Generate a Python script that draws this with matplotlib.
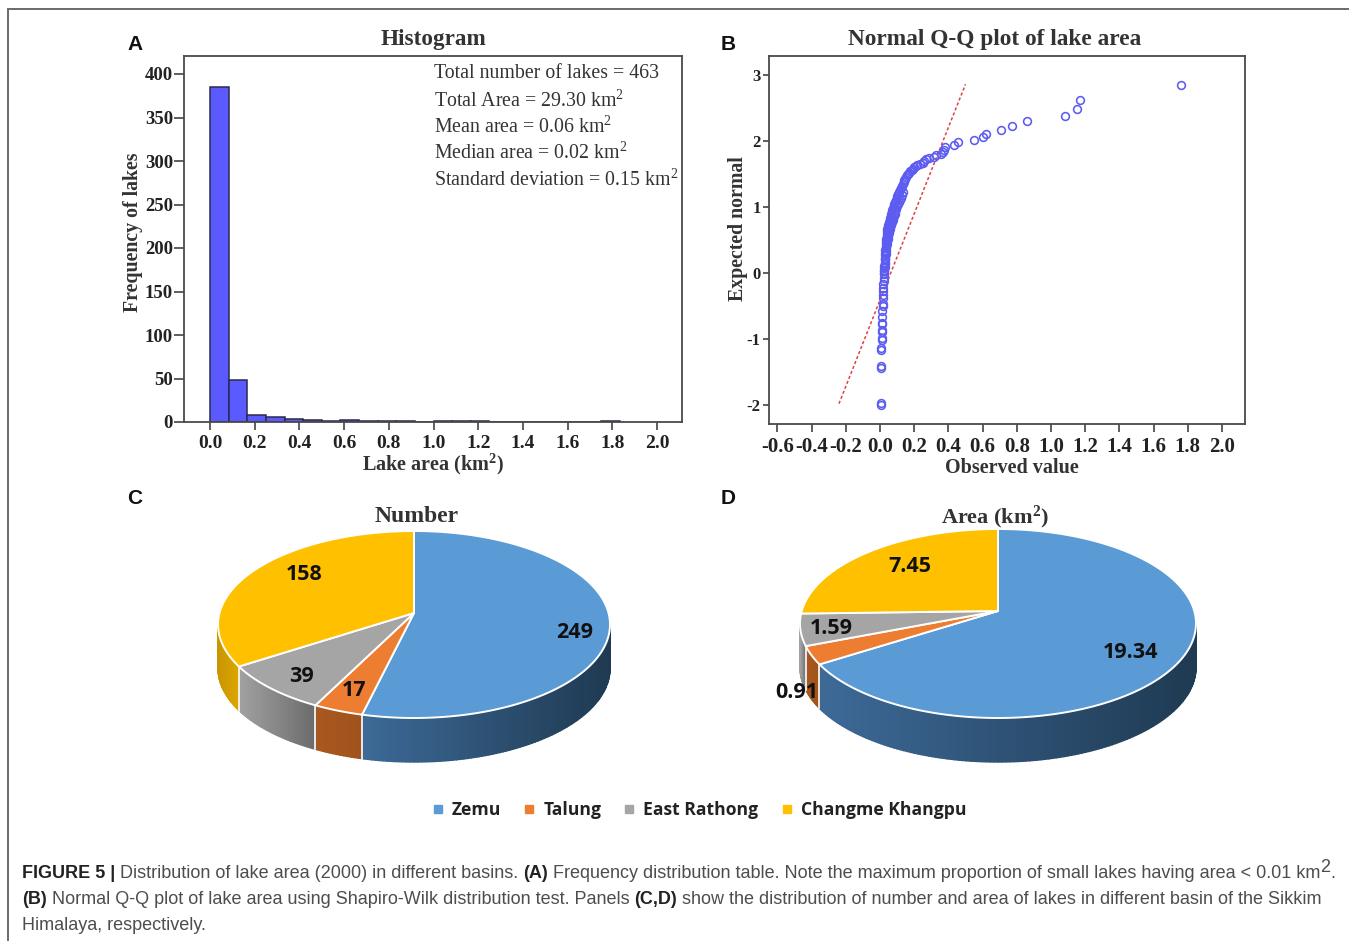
import matplotlib
matplotlib.use('Agg')
import matplotlib.pyplot as plt
from matplotlib.lines import Line2D
import numpy as np

W, H = 1355, 941
SERIF = 'Liberation Serif'
SANS = 'Liberation Sans'
CALIBRI = 'Open Sans'

# histogram
bin_width = 1 / 12
hist_counts = [385, 48, 8, 6, 4, 2, 1, 2, 1, 1, 1, 0, 1, 1, 1, 0, 0, 0, 0, 0, 0, 1]
hist_xticks = [0.0, 0.2, 0.4, 0.6, 0.8, 1.0, 1.2, 1.4, 1.6, 1.8, 2.0]
hist_yticks = [0, 50, 100, 150, 200, 250, 300, 350, 400]
stats_lines = ['Total number of lakes = 463',
               'Total Area = 29.30 km$^{2}$',
               'Mean area = 0.06 km$^{2}$',
               'Median area = 0.02 km$^{2}$',
               'Standard deviation = 0.15 km$^{2}$']

qq_observed = [0.006, 0.006, 0.007, 0.007, 0.008, 0.008, 0.010, 0.010, 0.011, 0.011, 0.012, 0.012,
               0.013, 0.014, 0.015, 0.015, 0.016, 0.017, 0.018, 0.019, 0.020, 0.021, 0.022, 0.023,
               0.024, 0.025, 0.026, 0.027, 0.028, 0.029, 0.030, 0.031, 0.032, 0.033, 0.034, 0.035,
               0.037, 0.038, 0.039, 0.040, 0.041, 0.042, 0.043, 0.045, 0.047, 0.050, 0.053, 0.056,
               0.059, 0.062, 0.065, 0.068, 0.072, 0.076, 0.080, 0.084, 0.088, 0.092, 0.097, 0.102,
               0.107, 0.112, 0.118, 0.124, 0.130, 0.136, 0.140, 0.143, 0.146, 0.150, 0.156, 0.162,
               0.170, 0.178, 0.186, 0.194, 0.200, 0.208, 0.215, 0.232, 0.250, 0.258, 0.268, 0.285,
               0.315, 0.330, 0.355, 0.370, 0.375, 0.378, 0.435, 0.455, 0.55, 0.60, 0.62, 0.71,
               0.77, 0.86, 1.08, 1.15, 1.17, 1.76,
               0.022, 0.025, 0.027, 0.029, 0.031, 0.033, 0.035, 0.037, 0.040, 0.042, 0.044, 0.046,
               0.049, 0.052, 0.055, 0.058, 0.061, 0.064, 0.067, 0.070, 0.074, 0.078, 0.082, 0.086,
               0.090, 0.095, 0.100, 0.105, 0.110, 0.115, 0.121, 0.127, 0.133]
qq_expected = [-2.00, -1.97, -1.44, -1.41, -1.16, -1.13, -1.01, -0.99, -0.89, -0.87, -0.78, -0.76,
               -0.67, -0.58, -0.50, -0.47, -0.38, -0.33, -0.28, -0.22, -0.17, -0.12, -0.07, -0.02,
               0.03, 0.07, 0.11, 0.15, 0.19, 0.23, 0.27, 0.31, 0.35, 0.38, 0.42, 0.46,
               0.49, 0.52, 0.55, 0.58, 0.61, 0.64, 0.67, 0.70, 0.72, 0.75, 0.78, 0.81,
               0.84, 0.87, 0.90, 0.93, 0.96, 0.99, 1.02, 1.05, 1.08, 1.11, 1.14, 1.17,
               1.20, 1.23, 1.26, 1.29, 1.32, 1.35, 1.38, 1.41, 1.43, 1.46, 1.48, 1.50,
               1.52, 1.54, 1.56, 1.58, 1.60, 1.62, 1.63, 1.65, 1.67, 1.69, 1.72, 1.74,
               1.76, 1.79, 1.81, 1.84, 1.87, 1.91, 1.94, 1.98, 2.02, 2.06, 2.11, 2.17,
               2.22, 2.30, 2.38, 2.48, 2.62, 2.85,
               0.00, 0.05, 0.09, 0.13, 0.21, 0.29, 0.33, 0.40, 0.44, 0.48, 0.51, 0.54,
               0.57, 0.60, 0.63, 0.66, 0.69, 0.72, 0.75, 0.78, 0.81, 0.84, 0.87, 0.90,
               0.93, 0.97, 1.01, 1.04, 1.07, 1.10, 1.13, 1.18, 1.22]
qq_line_x = [-0.24, 0.50]
qq_line_y = [-1.98, 2.86]
qq_xticks = [-0.6, -0.4, -0.2, 0.0, 0.2, 0.4, 0.6, 0.8, 1.0, 1.2, 1.4, 1.6, 1.8, 2.0]
qq_yticks = [-2, -1, 0, 1, 2, 3]

# pies
basins = ['Zemu', 'Talung', 'East Rathong', 'Changme Khangpu']
lake_number = [249, 17, 39, 158]
lake_area = [19.34, 0.91, 1.59, 7.45]
number_labels = ['249', '17', '39', '158']
area_labels = ['19.34', '0.91', '1.59', '7.45']

top_colors = ['#5b9bd5', '#ed7d31', '#a5a5a5', '#ffc000']
wall_left = ['#3d6a98', '#a9581f', '#a2a2a2', '#c99600']
wall_right = ['#1f3a52', '#a0531c', '#6c6c6c', '#dca600']

plt.rcParams['mathtext.fontset'] = 'custom'
plt.rcParams['mathtext.rm'] = SERIF
plt.rcParams['mathtext.bf'] = SERIF + ':bold'
plt.rcParams['mathtext.it'] = SERIF + ':italic'
plt.rcParams['mathtext.default'] = 'rm'


def px_axes(fig, left, top, right, bottom, **kw):
    return fig.add_axes([left / W, 1 - bottom / H, (right - left) / W, (bottom - top) / H], **kw)


def style_axes(ax, ylen, ypad):
    for s in ax.spines.values():
        s.set_color('#4a4a4a')
        s.set_linewidth(1.3)
    ax.tick_params(axis='x', length=6, width=1.1, color='#333333', pad=3)
    ax.tick_params(axis='y', length=ylen, width=1.1, color='#333333', pad=ypad)


def hex_mix(c1, c2, t):
    a = np.array(matplotlib.colors.to_rgb(c1))
    b = np.array(matplotlib.colors.to_rgb(c2))
    return a + (b - a) * t


def rim(deg, cx, apex_y, top, bottom, half_w):
    # projective view of the pie's circle, the centre maps to the apex
    k = (bottom - top) / (bottom + top)
    ry = top * (1 + k)
    rx = half_w * np.sqrt(1 - k ** 2)
    t = np.radians(deg)
    d = 1 + k * np.sin(t)
    return cx + rx * np.cos(t) / d, apex_y - ry * np.sin(t) / d


def draw_pie(ax, values, labels, label_pos, cx, apex_y, top, bottom, half_w, depth):
    frac = np.cumsum([0] + list(values)) / sum(values)
    angles = 90 - frac * 360
    k = (bottom - top) / (bottom + top)
    # side wall first, only between the two silhouette points of the rim
    for i in range(len(values)):
        a0, a1 = angles[i], angles[i + 1]
        steps = np.arange(a0, a1 - 1, -1.0)
        steps[-1] = a1
        xs, ys = rim(steps, cx, apex_y, top, bottom, half_w)
        front = np.sin(np.radians(steps)) < -k + 0.01
        if front.sum() < 2:
            continue
        xmin, xmax = xs[front].min(), xs[front].max()
        for j in range(len(steps) - 1):
            if not (front[j] and front[j + 1]):
                continue
            c = hex_mix(wall_left[i], wall_right[i], np.clip((xs[j] - xmin) / max(xmax - xmin, 1), 0, 1))
            ax.fill([xs[j], xs[j + 1], xs[j + 1], xs[j]],
                    [ys[j], ys[j + 1], ys[j + 1] + depth, ys[j] + depth],
                    facecolor=c, edgecolor=c, lw=1.0, zorder=2)
    for a in angles[1:-1]:
        if np.sin(np.radians(a)) < -k:
            x, y = rim(a, cx, apex_y, top, bottom, half_w)
            ax.plot([x, x], [y, y + depth], color='#f4f4f4', lw=1.3, zorder=3)
    for i in range(len(values)):
        xs, ys = rim(np.linspace(angles[i], angles[i + 1], 150), cx, apex_y, top, bottom, half_w)
        ax.fill(np.r_[cx, xs], np.r_[apex_y, ys], facecolor=top_colors[i], edgecolor='white', lw=1.4, zorder=4)
    for lab, (x, y) in zip(labels, label_pos):
        ax.text(x, y, lab, ha='center', va='center', family=CALIBRI, weight='bold',
                fontsize=15.5, color='#111111', zorder=6)


def draw_runs(fig, x, y, runs, size):
    # caption pieces placed one after the other, x/y in pixels
    r = fig.canvas.get_renderer()
    for s, bold, col, dy in runs:
        t = fig.text(x / W, 1 - (y + dy) / H, s, family=SANS, fontsize=size, color=col,
                     weight='bold' if bold else 'normal', va='baseline', ha='left')
        x += t.get_window_extent(r).width


fig = plt.figure(figsize=(W / 100, H / 100), dpi=100, facecolor='white')

# A - histogram
ax = px_axes(fig, 184, 56, 682, 422)
edges = np.arange(len(hist_counts)) * bin_width
ax.bar(edges, hist_counts, width=bin_width, align='edge', color='#5a5aff', edgecolor='#2a2a50', linewidth=1.1)
ax.set_xlim((184 - 210) / 223.5, (682 - 210) / 223.5)
ax.set_ylim(0, 366 / 0.87)
ax.set_xticks(hist_xticks)
ax.set_xticklabels([f'{v:.1f}' for v in hist_xticks], family=SERIF, weight='bold', fontsize=14, color='#222222')
ax.set_yticks(hist_yticks)
ax.set_yticklabels(hist_yticks, family=SERIF, weight='bold', fontsize=13.5, color='#222222')
style_axes(ax, 7, 1)
ax.set_title('Histogram', family=SERIF, weight='bold', fontsize=16.7, color='#333333', pad=8)
ax.set_xlabel(r'Lake area (km$^{\mathbf{2}}$)', family=SERIF, weight='bold', fontsize=14.5, color='#333333', labelpad=0)
ax.set_ylabel('Frequency of lakes', family=SERIF, weight='bold', fontsize=14.3, color='#333333', labelpad=1.5, y=0.519)
for line, yp in zip(stats_lines, [78, 107, 133, 159, 186]):
    ax.text((434 - 184) / 498, 1 - (yp - 56) / 366, line, transform=ax.transAxes, family=SERIF,
            fontsize=14.3, color='#333333', va='baseline', ha='left')

# B - q-q
ax = px_axes(fig, 769, 56, 1245, 424)
ax.plot(qq_line_x, qq_line_y, color='#e0413f', lw=1.1, ls=(0, (2, 1.5)), zorder=2)
ax.plot(qq_observed, qq_expected, ls='none', marker='o', ms=5.6, mfc='none', mec='#5c5cf0', mew=1.15, zorder=3)
ax.set_xlim((769 - 880) / 171, (1245 - 880) / 171)
ax.set_ylim((273 - 424) / 66, (273 - 56) / 66)
ax.set_xticks(qq_xticks)
ax.set_xticklabels([f'{v:.1f}' for v in qq_xticks], family=SERIF, weight='bold', fontsize=15, color='#222222')
ax.set_yticks(qq_yticks)
ax.set_yticklabels(qq_yticks, family=SERIF, weight='bold', fontsize=12, color='#222222')
style_axes(ax, 4, 2)
ax.set_title('Normal Q-Q plot of lake area', family=SERIF, weight='bold', fontsize=16.8, color='#333333', pad=8, x=0.475)
ax.set_xlabel('Observed value', family=SERIF, weight='bold', fontsize=14.5, color='#333333', labelpad=1, x=0.51)
ax.set_ylabel('Expected normal', family=SERIF, weight='bold', fontsize=14.3, color='#333333', labelpad=-1, y=0.53)

# overlay in pixel coordinates for the pies, frame and letters
pa = fig.add_axes([0, 0, 1, 1], zorder=-1)
pa.set_xlim(0, W)
pa.set_ylim(H, 0)
pa.axis('off')
pa.plot([8, 8, 1348], [H, 9, 9], color='#6a6a6a', lw=1.4, solid_joinstyle='miter')

draw_pie(pa, lake_number, number_labels, [(575, 633), (354, 691), (301, 676), (304, 575)],
         414, 613, 82, 105, 196, 44)
draw_pie(pa, lake_area, area_labels, [(1131, 653), (797, 693), (831, 629), (910, 567)],
         998, 611, 82, 107, 198, 44)
pa.text(417, 517, 'Number', family=SERIF, weight='bold', fontsize=17, color='#333333', ha='center', va='center')
pa.text(995, 517, r'Area (km$^{\mathbf{2}}$)', family=SERIF, weight='bold', fontsize=16, color='#333333', ha='center', va='center')

for letter, x, y in [('A', 135, 44), ('B', 728, 44), ('C', 135, 498), ('D', 728, 498)]:
    pa.text(x, y, letter, family=SANS, weight='bold', fontsize=15, color='#111111', ha='center', va='center')

handles = [Line2D([], [], ls='none', marker='s', ms=5.5, color=c) for c in top_colors]
fig.legend(handles, basins, loc='center', bbox_to_anchor=(699 / W, 1 - 810 / H), ncols=4, frameon=False,
           prop={'family': CALIBRI, 'weight': 'bold', 'size': 12.6}, handlelength=0.7, handletextpad=0.45,
           columnspacing=1.25, labelcolor='#222222')

GREY = '#4d4d4d'
DARK = '#222222'
cap = 12.95
draw_runs(fig, 22, 878, [('FIGURE 5 |', True, DARK, 0),
                         (' Distribution of lake area (2000) in different basins. ', False, GREY, 0),
                         ('(A)', True, DARK, 0),
                         (' Frequency distribution table. Note the maximum proportion of small lakes having area < 0.01 km', False, GREY, 0),
                         ('2', False, GREY, -6),
                         ('.', False, GREY, 0)], cap)
draw_runs(fig, 22, 904, [('(B)', True, DARK, 0),
                         (' Normal Q-Q plot of lake area using Shapiro-Wilk distribution test. Panels ', False, GREY, 0),
                         ('(C,D)', True, DARK, 0),
                         (' show the distribution of number and area of lakes in different basin of the Sikkim', False, GREY, 0)], cap)
draw_runs(fig, 22, 930, [('Himalaya, respectively.', False, GREY, 0)], cap)

fig.savefig('out.png', dpi=100)
